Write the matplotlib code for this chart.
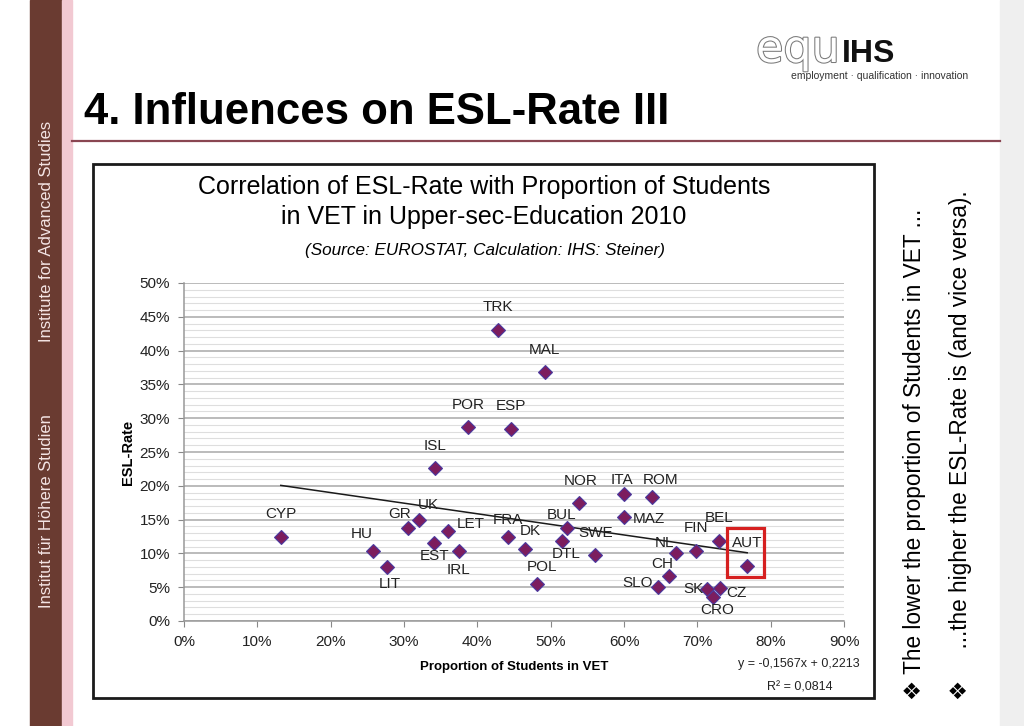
import numpy as np
import matplotlib
matplotlib.use('Agg')
import matplotlib.pyplot as plt
import matplotlib.patches as patches
import matplotlib.patheffects as pe

# country codes, share of students in VET (%), ESL rate (%)
countries = ['CYP', 'HU', 'LIT', 'GR', 'UK', 'EST', 'LET', 'IRL', 'ISL', 'POR',
             'TRK', 'ESP', 'MAL', 'FRA', 'DK', 'POL', 'BUL', 'DTL', 'NOR', 'SWE',
             'ITA', 'MAZ', 'ROM', 'SLO', 'CH', 'NL', 'FIN', 'SK', 'CRO', 'CZ',
             'BEL', 'AUT']
vet_share = [13.2, 25.8, 27.7, 30.6, 32.1, 34.1, 36.0, 37.5, 34.2, 38.7,
             42.8, 44.6, 49.2, 44.2, 46.5, 48.2, 52.2, 51.5, 53.9, 56.1,
             60.0, 60.0, 63.8, 64.6, 66.1, 67.1, 69.8, 71.3, 72.1, 73.1,
             73.0, 76.8]
esl_rate = [12.5, 10.4, 8.0, 13.7, 14.9, 11.6, 13.3, 10.4, 22.7, 28.7,
            43.1, 28.4, 36.9, 12.5, 10.7, 5.4, 13.8, 11.9, 17.4, 9.7,
            18.8, 15.4, 18.3, 5.0, 6.6, 10.1, 10.3, 4.7, 3.6, 4.9,
            11.9, 8.2]

# linear trend as printed on the chart
slope = -0.1567
intercept = 0.2213
r_squared = '0,0814'

x_ticks = [0, 10, 20, 30, 40, 50, 60, 70, 80, 90]
y_ticks = [0, 5, 10, 15, 20, 25, 30, 35, 40, 45, 50]

# label offsets in pixels (dx, dy) from the marker
label_offsets = {
    'CYP': (0, 23), 'HU': (-11, 17), 'LIT': (3, -17), 'GR': (-9, 14),
    'UK': (9, 15), 'EST': (0, -13), 'LET': (23, 7), 'IRL': (0, -19),
    'ISL': (0, 22), 'POR': (0, 22), 'TRK': (0, 23), 'ESP': (0, 23),
    'MAL': (0, 22), 'FRA': (0, 17), 'DK': (5, 18), 'POL': (5, 17),
    'BUL': (-5, 13), 'DTL': (5, -13), 'NOR': (1, 22), 'SWE': (0, 22),
    'ITA': (-2, 14), 'MAZ': (25, -2), 'ROM': (9, 17), 'SLO': (-20, 4),
    'CH': (-6, 12), 'NL': (-12, 10), 'FIN': (0, 23), 'SK': (-13, 0),
    'CRO': (4, -13), 'CZ': (16, -5), 'BEL': (0, 23), 'AUT': (0, 23),
}

W, H = 1024, 726


def fx(px):
    return px / W


def fy(py):
    return 1 - py / H


sans = 'Liberation Sans'
plt.rcParams['font.family'] = [sans, 'DejaVu Sans']

fig = plt.figure(figsize=(W / 100, H / 100), dpi=100)
fig.patch.set_facecolor('white')

# slide decorations
fig.add_artist(patches.Rectangle((fx(30), 0), fx(32), 1, transform=fig.transFigure,
                                 color='#6a3b31', zorder=0))
fig.add_artist(patches.Rectangle((fx(62), 0), fx(10), 1, transform=fig.transFigure,
                                 color='#f2c9d2', zorder=0))
fig.add_artist(patches.Rectangle((fx(1000), 0), fx(24), 1, transform=fig.transFigure,
                                 color='#efefef', zorder=0))
fig.add_artist(plt.Line2D([fx(72), fx(1000)], [fy(141), fy(141)], transform=fig.transFigure,
                          color='#8a4652', lw=1.6))

fig.text(fx(47), fy(231), 'Institute for Advanced Studies', rotation=90, ha='center',
         va='center', color='#f4e4e4', fontsize=12)
fig.text(fx(47), fy(511), 'Institut für Höhere Studien', rotation=90, ha='center',
         va='center', color='#f4e4e4', fontsize=12)

fig.text(fx(84), fy(113), '4. Influences on ESL-Rate III', ha='left', va='center',
         fontsize=31.5, fontweight='bold', color='black')

# logo
fig.text(fx(756), fy(62), 'equ', ha='left', va='baseline', fontsize=32, color='white',
         family='DejaVu Sans',
         path_effects=[pe.Stroke(linewidth=1.5, foreground='#7a7a7a'), pe.Normal()])
fig.text(fx(842), fy(62), 'IHS', ha='left', va='baseline', fontsize=23,
         fontweight='bold', color='#111111')
fig.text(fx(968), fy(76), 'employment · qualification · innovation', ha='right',
         va='center', fontsize=7.5, color='#333333')

# right side notes
fig.text(fx(915), fy(700), '❖ The lower the proportion of Students in VET ...',
         rotation=90, ha='center', va='bottom', fontsize=16.3)
fig.text(fx(960), fy(700), '❖     ...the higher the ESL-Rate is (and vice versa).',
         rotation=90, ha='center', va='bottom', fontsize=16.3)

# chart frame
fig.add_artist(patches.Rectangle((fx(93), fy(698)), fx(874) - fx(93), fy(164) - fy(698),
                                 transform=fig.transFigure, fill=False,
                                 edgecolor='#1a1a1a', lw=2, zorder=1))

fig.text(fx(484), fy(187), 'Correlation of ESL-Rate with Proportion of Students',
         ha='center', va='center', fontsize=18)
fig.text(fx(484), fy(217), 'in VET in Upper-sec-Education 2010',
         ha='center', va='center', fontsize=18)
fig.text(fx(485), fy(251), '(Source: EUROSTAT, Calculation: IHS: Steiner)',
         ha='center', va='center', fontsize=12.3, style='italic')

# plot area
ax = fig.add_axes([fx(184), fy(621), fx(844) - fx(184), fy(283) - fy(621)])
ax.set_xlim(0, 90)
ax.set_ylim(0, 50)
ax.set_facecolor('none')

ax.set_yticks(y_ticks)
ax.set_yticks(np.arange(0, 51, 1), minor=True)
ax.set_xticks(x_ticks)
ax.set_yticklabels([f'{v}%' for v in y_ticks])
ax.set_xticklabels([f'{v}%' for v in x_ticks])
ax.grid(axis='y', which='major', color='#a8a8a8', lw=1.1)
ax.grid(axis='y', which='minor', color='#dedede', lw=0.8)
ax.set_axisbelow(True)
ax.tick_params(axis='y', which='minor', length=0)
ax.tick_params(axis='both', which='major', length=4, color='#888888',
               labelsize=11, labelcolor='#222222', direction='out')
ax.tick_params(axis='x', pad=6)
ax.tick_params(axis='y', pad=6)
for s in ['top', 'right']:
    ax.spines[s].set_visible(False)
for s in ['left', 'bottom']:
    ax.spines[s].set_color('#999999')
    ax.spines[s].set_linewidth(1.1)

ax.set_ylabel('ESL-Rate', fontsize=10.5, fontweight='bold', labelpad=3)
ax.set_xlabel('Proportion of Students in VET', fontsize=9.5, fontweight='bold', labelpad=9)

# trend line
xs = np.array([min(vet_share), max(vet_share)])
ax.plot(xs, (slope * xs / 100 + intercept) * 100, color='#1a1a1a', lw=1.1, zorder=2)

ax.plot(vet_share, esl_rate, linestyle='none', marker='D', ms=7,
        markerfacecolor='#7c1d5e', markeredgecolor='#4a3aa0', markeredgewidth=0.8,
        zorder=3, clip_on=False)

for c, xv, yv in zip(countries, vet_share, esl_rate):
    dx, dy = label_offsets[c]
    ax.annotate(c, (xv, yv), xytext=(dx, dy), textcoords='offset pixels',
                ha='center', va='center', fontsize=11, color='#222222', zorder=4)

# highlight Austria
fig.add_artist(patches.Rectangle((fx(727), fy(577)), fx(764) - fx(727), fy(528) - fy(577),
                                 transform=fig.transFigure, fill=False,
                                 edgecolor='#d62020', lw=2.3, zorder=5))

fig.text(fx(860), fy(664), 'y = -0,1567x + 0,2213', ha='right', va='center',
         fontsize=9, color='#222222')
fig.text(fx(800), fy(688), f'R² = {r_squared}', ha='center', va='center',
         fontsize=9, color='#222222')

fig.savefig('out.png', dpi=100)
